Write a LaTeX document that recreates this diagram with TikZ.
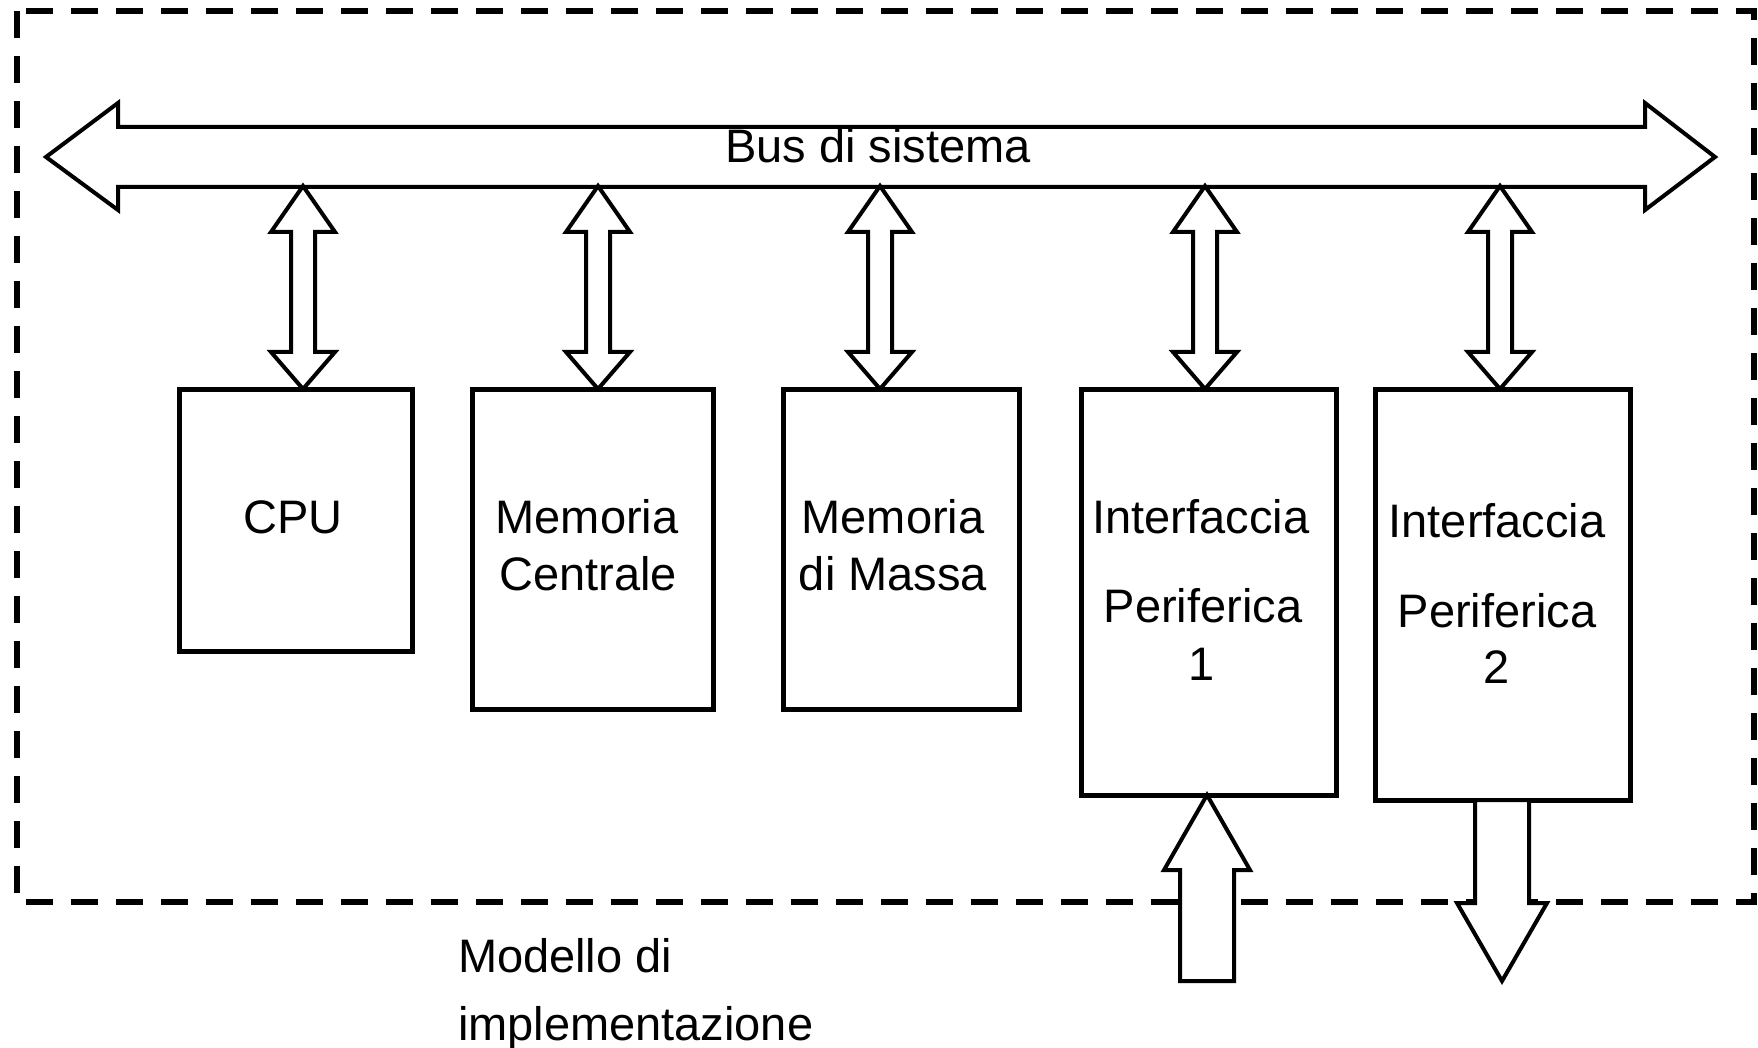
\documentclass[tikz,border=0pt]{standalone}
\usepackage{fontspec}
\setmainfont{Liberation Sans}
\usetikzlibrary{calc}
\begin{document}
\begin{tikzpicture}[x=1pt,y=-1pt,
  frame/.style={draw=black,line width=6pt,dash pattern=on 27pt off 18pt},
  blockbox/.style={draw=black,line width=5pt,inner sep=0pt,outer sep=0pt},
  arr/.style={draw=black,fill=white,line width=4pt,line join=miter},
  lbl/.style={inner sep=0pt,outer sep=0pt,anchor=base,font=\fontsize{47}{58}\selectfont},
  lblw/.style={lbl,anchor=base west}]
\useasboundingbox (0,0) rectangle (1758,1048);
% dashed frame
\draw[frame] (17,11) rectangle (1754,902);
% system bus
\draw[arr] (46,157) -- (118,103) -- (118,127) -- (1645,127) -- (1645,103) -- (1715,157)
  -- (1645,210) -- (1645,187) -- (118,187) -- (118,210) -- cycle;
\node[lbl] (bus) at (878,163) {Bus di sistema};
\coordinate (busbot) at (878,186);
% blocks
\node[blockbox,minimum width=233pt,minimum height=262pt] (cpu) at (295.5,520) {};
\node[blockbox,minimum width=241pt,minimum height=320pt] (memc) at (592.5,549) {};
\node[blockbox,minimum width=236pt,minimum height=320pt] (memm) at (901,549) {};
\node[blockbox,minimum width=255pt,minimum height=406pt] (int1) at (1208.5,592) {};
\node[blockbox,minimum width=255pt,minimum height=411pt] (int2) at (1502.5,594.5) {};
% block texts
\node[lbl] (cpuA) at (293,533) {CPU};
\node[lbl] (memcA) at (587,533) {Memoria};
\node[lbl] (memcB) at (588,590) {Centrale};
\node[lbl] (memmA) at (893,533) {Memoria};
\node[lbl] (memmB) at (893,590) {di Massa};
\node[lbl] (int1A) at (1201,533) {Interfaccia};
\node[lbl] (int1B) at (1203,622) {Periferica};
\node[lbl] (int1C) at (1202,680) {1};
\node[lbl] (int2A) at (1497,537) {Interfaccia};
\node[lbl] (int2B) at (1497,627) {Periferica};
\node[lbl] (int2C) at (1497,683) {2};
% bus <-> block double arrows
\foreach \cx/\b in {303/cpu,598/memc,880/memm,1205/int1,1500/int2}{
  \draw[arr] let \p1=(\b.north), \p2=(busbot) in
    ({\cx pt},\y2) -- ({\cx pt+32pt},\y2-46pt) -- ({\cx pt+12pt},\y2-46pt)
    -- ({\cx pt+12pt},\y1+37pt) -- ({\cx pt+32pt},\y1+37pt) -- ({\cx pt},\y1)
    -- ({\cx pt-32pt},\y1+37pt) -- ({\cx pt-12pt},\y1+37pt)
    -- ({\cx pt-12pt},\y2-46pt) -- ({\cx pt-32pt},\y2-46pt) -- cycle;
}
% external arrows
\coordinate (in1) at (1207,981);
\coordinate (out2) at (1502,981);
\draw[arr] let \p1=(int1.south), \p2=(in1) in
  (\x2,\y1) -- (\x2+43pt,\y1-75pt) -- (\x2+27pt,\y1-75pt) -- (\x2+27pt,\y2)
  -- (\x2-27pt,\y2) -- (\x2-27pt,\y1-75pt) -- (\x2-43pt,\y1-75pt) -- cycle;
\draw[arr] let \p1=(int2.south), \p2=(out2) in
  (\x2-27pt,\y1) -- (\x2+27pt,\y1) -- (\x2+27pt,\y2+78pt) -- (\x2+45pt,\y2+78pt)
  -- (\x2,\y2) -- (\x2-45pt,\y2+78pt) -- (\x2-27pt,\y2+78pt) -- cycle;
% caption
\node[lblw] (capA) at (458,972) {Modello di};
\node[lblw] (capB) at (458,1040) {implementazione};
\end{tikzpicture}
\end{document}
